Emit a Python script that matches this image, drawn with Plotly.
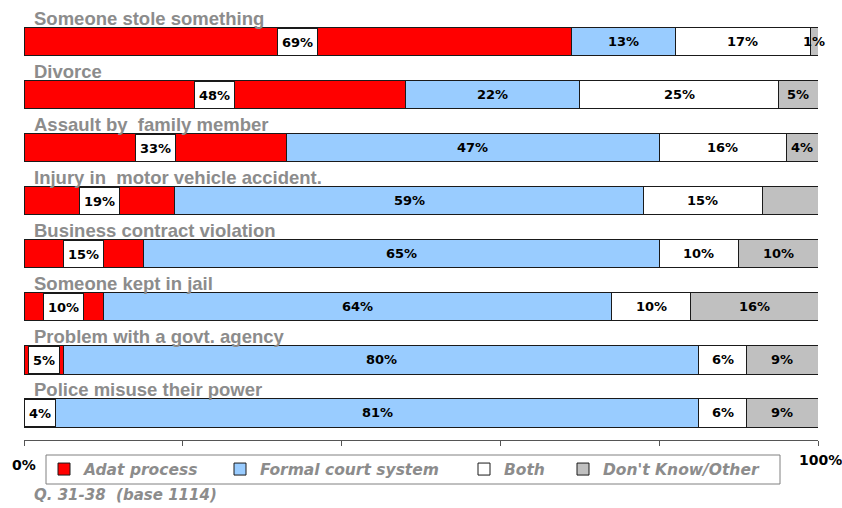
import plotly.graph_objects as go

# Survey: which forum would respondents use for each type of dispute (%)
categories = [
    "Someone stole something",
    "Divorce",
    "Assault by  family member",
    "Injury in  motor vehicle accident.",
    "Business contract violation",
    "Someone kept in jail",
    "Problem with a govt. agency",
    "Police misuse their power",
]
adat = [69, 48, 33, 19, 15, 10, 5, 4]
formal = [13, 22, 47, 59, 65, 64, 80, 81]
both = [17, 25, 16, 15, 10, 10, 6, 6]
dont_know = [1, 5, 4, 7, 10, 16, 9, 9]
dont_know_labelled = [True, True, True, False, True, True, True, True]

series_names = ["Adat process", "Formal court system", "Both", "Don't Know/Other"]
series_values = [adat, formal, both, dont_know]
series_colors = ["#FF0000", "#99CCFF", "#FFFFFF", "#C0C0C0"]

GRAY = "#8C8C8C"
TITLE_FONT = "Liberation Sans, Arial, sans-serif"
WIDE_FONT = "DejaVu Sans, Verdana, sans-serif"
rows = list(range(len(categories)))

# each legend entry gets its own legend so the entries can be spaced freely
legend_ids = ["legend", "legend2", "legend3", "legend4"]
legend_px = [44, 220, 464, 563]          # left edge of each entry, in pixels
PLOT_LEFT, PLOT_W, PLOT_H = 24, 794, 440

fig = go.Figure()
for name, vals, color, lg in zip(series_names, series_values, series_colors, legend_ids):
    fig.add_trace(go.Bar(
        y=rows, x=vals, name=name, orientation="h", width=0.53,
        marker=dict(color=color, line=dict(color="#1a1a1a", width=1)),
        hoverinfo="x+name", legend=lg,
    ))

value_font = dict(family=WIDE_FONT, size=13, color="#000000", weight="bold")

annotations = []
for i, cat in enumerate(categories):
    # category title above each bar
    annotations.append(dict(
        x=0, y=i - 0.45, xref="x", yref="y", text=cat, showarrow=False,
        xanchor="left", yanchor="middle", xshift=8,
        font=dict(family=TITLE_FONT, size=18.5, color=GRAY, weight="bold"),
    ))
    # Adat share in a white boxed label centred on the red segment
    txt = f"{adat[i]}%"
    annotations.append(dict(
        x=adat[i] / 2, y=i, xref="x", yref="y", text=txt, showarrow=False,
        bgcolor="#FFFFFF", bordercolor="#1a1a1a", borderwidth=1, borderpad=0,
        width=9 * len(txt) + 12, height=26, font=value_font,
    ))
    # remaining segment values
    start = adat[i]
    for vals, show in ((formal, True), (both, True), (dont_know, dont_know_labelled[i])):
        v = vals[i]
        if show:
            annotations.append(dict(
                x=start + v / 2, y=i, xref="x", yref="y", text=f"{v}%",
                showarrow=False, font=value_font,
            ))
        start += v

# end labels of the percentage scale and the footnote
annotations += [
    dict(x=0, y=-0.057, xref="paper", yref="paper", text="0%", showarrow=False,
         xanchor="center", yanchor="middle",
         font=dict(family=WIDE_FONT, size=14, color="#000000", weight="bold")),
    dict(x=1.003, y=-0.046, xref="paper", yref="paper", text="100%", showarrow=False,
         xanchor="center", yanchor="middle",
         font=dict(family=WIDE_FONT, size=14, color="#000000", weight="bold")),
    dict(x=0, y=-0.125, xref="paper", yref="paper", text="Q. 31-38  (base 1114)",
         showarrow=False, xanchor="left", yanchor="middle", xshift=8,
         font=dict(family=WIDE_FONT, size=15, color=GRAY, weight="bold", style="italic")),
]

legend_font = dict(family=WIDE_FONT, size=15.5, color=GRAY, weight="bold", style="italic")
legend_layout = {}
for lg, px in zip(legend_ids, legend_px):
    legend_layout[lg] = dict(
        orientation="h", x=(px - PLOT_LEFT) / PLOT_W, y=-0.067,
        xanchor="left", yanchor="middle", bgcolor="rgba(0,0,0,0)",
        borderwidth=0, font=legend_font,
    )

fig.update_layout(
    width=842, height=508,
    margin=dict(l=24, r=24, t=0, b=68),
    barmode="stack",
    plot_bgcolor="#FFFFFF", paper_bgcolor="#FFFFFF",
    showlegend=True,
    xaxis=dict(
        range=[0, 100], tickvals=[0, 20, 40, 60, 80, 100], showticklabels=False,
        ticks="outside", ticklen=5, tickcolor="#555555", showline=True,
        linecolor="#555555", linewidth=1, showgrid=False, zeroline=False,
        fixedrange=True,
    ),
    yaxis=dict(
        range=[7.51, -0.79], showticklabels=False, showgrid=False,
        zeroline=False, showline=False, fixedrange=True,
    ),
    annotations=annotations,
    # frame around the legend row
    shapes=[dict(
        type="rect", xref="paper", yref="paper",
        x0=(46 - PLOT_LEFT) / PLOT_W, x1=(780 - PLOT_LEFT) / PLOT_W,
        y0=(PLOT_H - 484) / PLOT_H, y1=(PLOT_H - 455) / PLOT_H,
        line=dict(color="#808080", width=1), fillcolor="rgba(0,0,0,0)",
    )],
    **legend_layout,
)

fig.write_html("out.html")
